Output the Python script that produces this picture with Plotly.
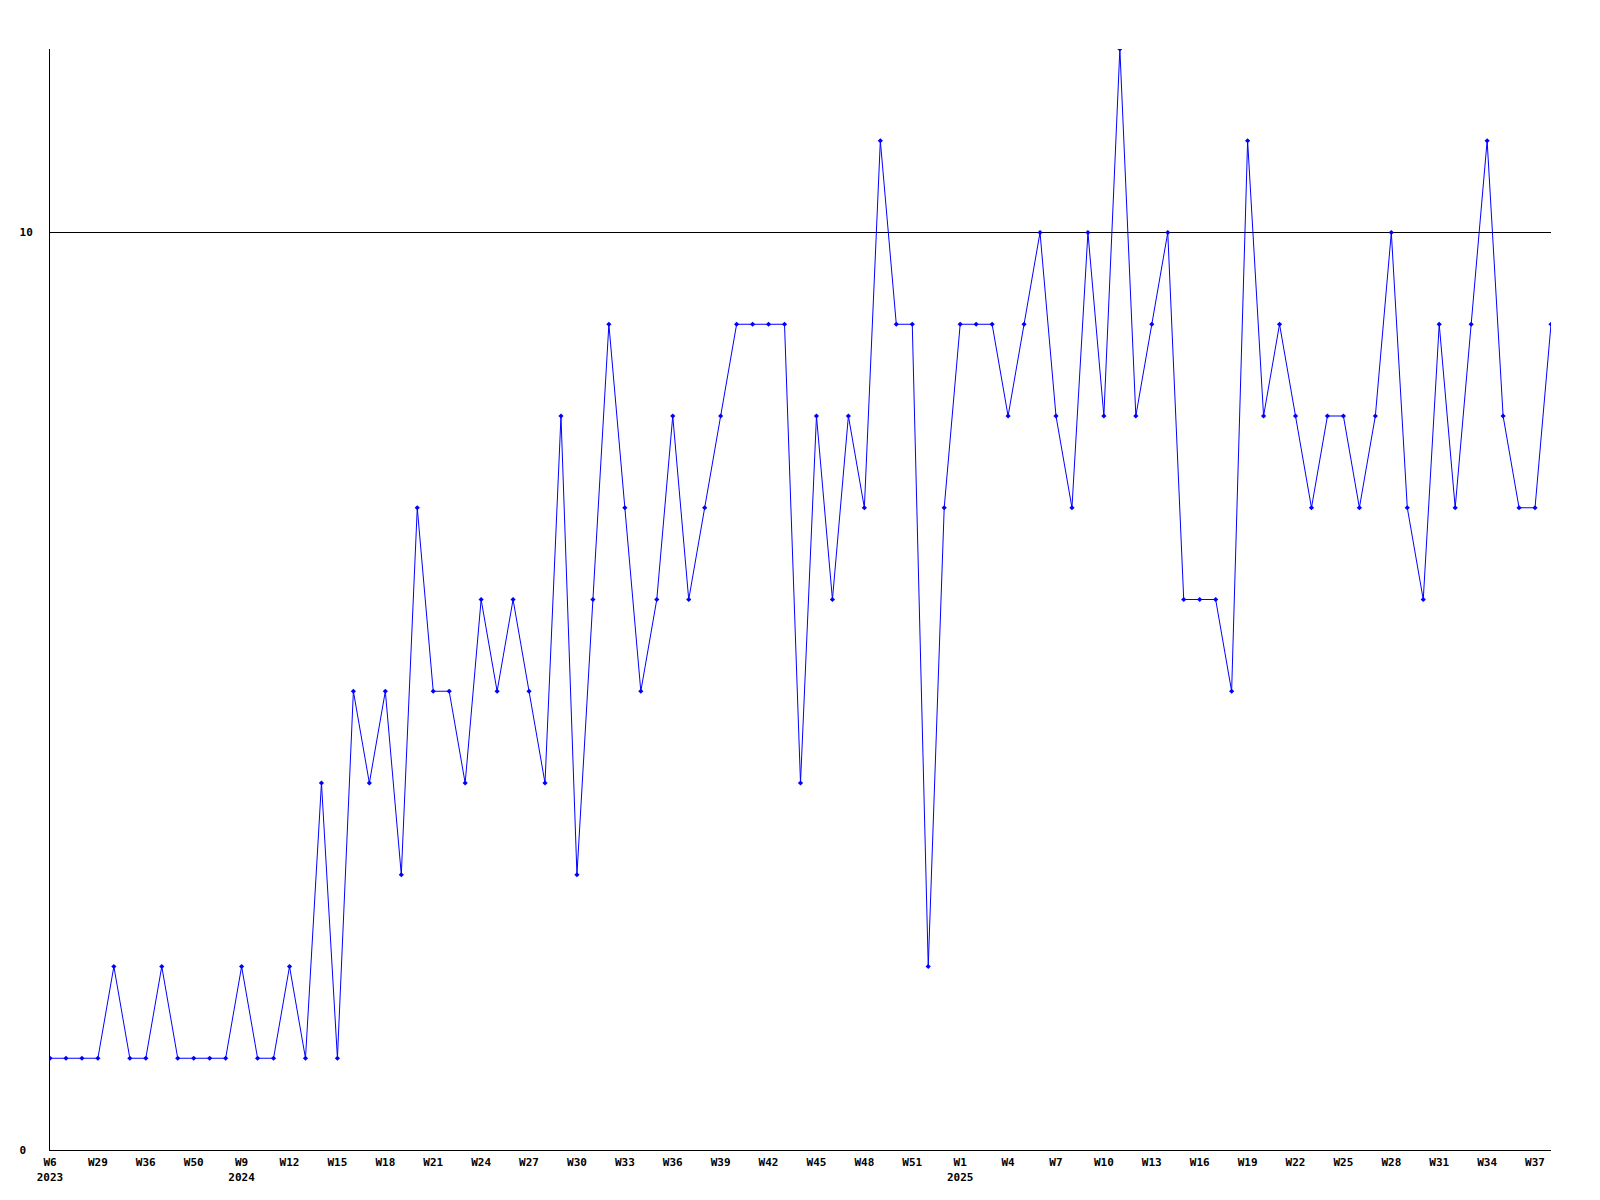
import plotly.graph_objects as go

# Semanas (categorias) e valores
weeks_2023 = ["2023-W06", "2023-W14", "2023-W22", "2023-W29", "2023-W31", "2023-W34",
              "2023-W36", "2023-W40", "2023-W45", "2023-W50", "2023-W51", "2023-W52"]
weeks_2024 = [f"2024-W{w:02d}" for w in range(9, 54)]
weeks_2025 = [f"2025-W{w:02d}" for w in range(1, 39)]
weeks = weeks_2023 + weeks_2024 + weeks_2025

values = [
    1, 1, 1, 1, 2, 1, 1, 2, 1, 1, 1, 1,
    2, 1, 1, 2, 1, 4, 1, 5, 4, 5, 3, 7, 5, 5, 4, 6, 5, 6, 5, 4, 8, 3, 6, 9,
    7, 5, 6, 8, 6, 7, 8, 9, 9, 9, 9, 4, 8, 6, 8, 7, 11, 9, 9, 2, 7,
    9, 9, 9, 8, 9, 10, 8, 7, 10, 8, 12, 8, 9, 10, 6, 6, 6, 5, 11, 8, 9, 8,
    7, 8, 8, 7, 8, 10, 7, 6, 9, 7, 9, 11, 8, 7, 7, 9,
]

# Rótulos do eixo x (a cada 3 pontos)
tick_labels = ["W6<br>2023", "W29", "W36", "W50", "W9<br>2024", "W12", "W15", "W18",
               "W21", "W24", "W27", "W30", "W33", "W36", "W39", "W42", "W45", "W48",
               "W51", "W1<br>2025", "W4", "W7", "W10", "W13", "W16", "W19", "W22",
               "W25", "W28", "W31", "W34", "W37"]
tick_vals = weeks[::3][: len(tick_labels)]

FONT = dict(family="DejaVu Sans Mono", size=11, color="black", weight="bold")

fig = go.Figure()
fig.add_trace(
    go.Scatter(
        x=weeks, y=values, mode="lines+markers",
        line=dict(color="#0000ff", width=1),
        marker=dict(symbol="diamond", size=4, color="#0000ff"),
        showlegend=False,
    )
)
# a página tem margem de 8px no body, por isso a figura é um pouco menor
fig.update_layout(
    width=1584, height=1184,
    paper_bgcolor="white", plot_bgcolor="white",
    margin=dict(l=42, r=41, t=41, b=42),
    font=FONT,
    xaxis=dict(
        type="category", range=[0, len(weeks) - 1], automargin=False,
        tickmode="array", tickvals=tick_vals, ticktext=tick_labels,
        showgrid=False, zeroline=False, showline=True, linecolor="black", linewidth=1,
        ticks="", tickfont=FONT, tickangle=0, ticklabelstandoff=2,
    ),
    yaxis=dict(
        range=[0, 12], tickmode="array", tickvals=[0, 10], ticktext=["0\u00a0", "10"],
        showgrid=True, gridcolor="black", gridwidth=1, zeroline=False, automargin=False,
        showline=True, linecolor="black", linewidth=1, ticks="", tickfont=FONT,
        ticklabelstandoff=14,
    ),
)
fig.write_html("out.html")
